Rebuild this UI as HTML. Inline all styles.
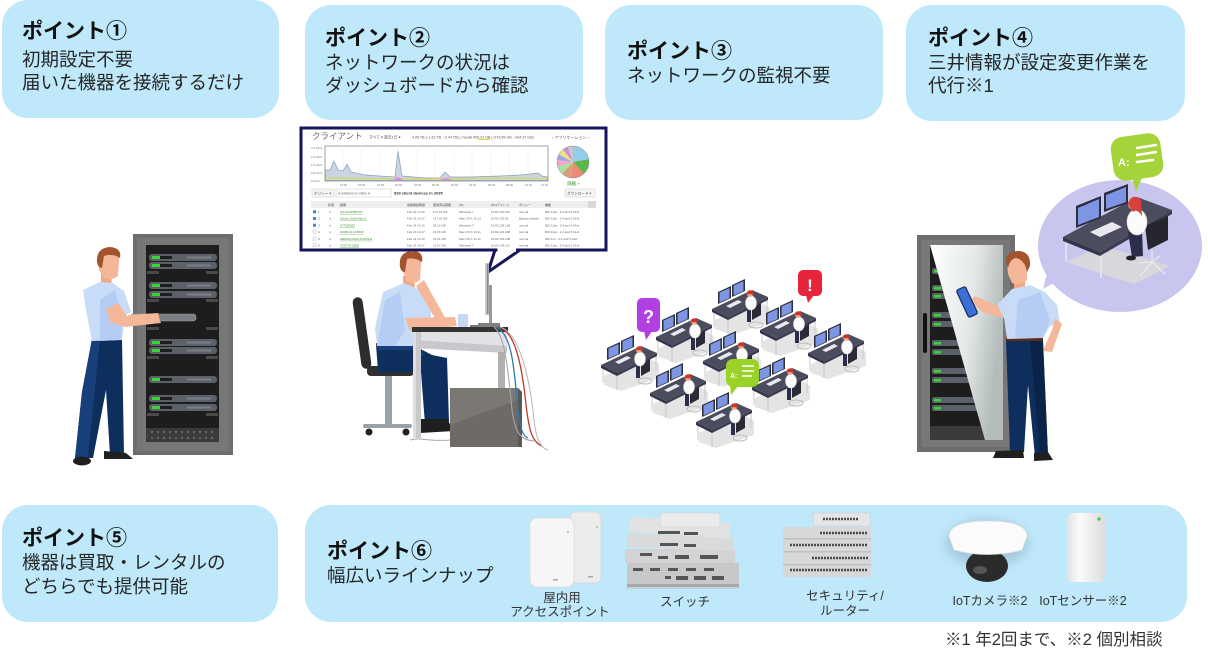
<!DOCTYPE html>
<html><head><meta charset="utf-8">
<style>
html,body{margin:0;padding:0;background:#fff;}
#c{position:relative;width:1208px;height:662px;overflow:hidden;background:#fff;font-family:"Liberation Sans","Noto Sans CJK JP",sans-serif;}
svg{position:absolute;left:0;top:0;}
.box{position:absolute;background:#bfe9fb;border-radius:26px;}
.t{position:absolute;white-space:nowrap;color:#262626;font-size:18.5px;line-height:24px;}
.h{font-weight:bold;font-size:21px;color:#111;}
.s{position:absolute;white-space:nowrap;color:#333;font-size:12.5px;line-height:15px;text-align:center;width:140px;}
</style></head><body><div id="c">

<div class="box" style="left:2px;top:0px;width:277px;height:118px;"></div>
<div class="box" style="left:305px;top:5px;width:278px;height:115px;"></div>
<div class="box" style="left:605px;top:5px;width:278px;height:115px;"></div>
<div class="box" style="left:906px;top:5px;width:279px;height:116px;"></div>
<div class="box" style="left:2px;top:505px;width:276px;height:117px;"></div>
<div class="box" style="left:305px;top:505px;width:882px;height:117px;"></div>

<svg width="1208" height="662" viewBox="0 0 1208 662" xmlns="http://www.w3.org/2000/svg">
<defs>
  <linearGradient id="door" x1="0" y1="0" x2="1" y2="0.3">
    <stop offset="0" stop-color="#ffffff"/>
    <stop offset="0.6" stop-color="#e4e8e8"/>
    <stop offset="1" stop-color="#b4bcbc"/>
  </linearGradient>
  <linearGradient id="sens" x1="0" y1="0" x2="1" y2="0">
    <stop offset="0" stop-color="#e2e2e2"/>
    <stop offset="0.35" stop-color="#fbfbfb"/>
    <stop offset="1" stop-color="#dcdcdc"/>
  </linearGradient>
  <filter id="bl" x="-50%" y="-50%" width="200%" height="200%"><feGaussianBlur stdDeviation="5"/></filter>
  <g id="unit">
    <rect x="0" y="0" width="68" height="7" rx="3" fill="#5c6169"/>
    <rect x="3" y="2" width="8" height="3" fill="#3ad43a"/>
    <rect x="11" y="2" width="12" height="3" fill="#1d1d1d"/>
    <rect x="38" y="2.5" width="24" height="2" fill="#7a8089"/>
  </g>
  <g id="desk">
    <polygon points="3,38 45,18 58,26 58,40 20,53 3,47" fill="#e4e4e4"/>
    <line x1="2" y1="28" x2="2" y2="45" stroke="#c9c9c9" stroke-width="1"/>
    <line x1="16" y1="36" x2="16" y2="52" stroke="#c9c9c9" stroke-width="1"/>
    <line x1="55" y1="16" x2="55" y2="33" stroke="#c9c9c9" stroke-width="1"/>
    <polygon points="0,27 40,8 56,15 16,35" fill="#4b4c5e"/>
    <polygon points="0,27 16,35 16,38 0,30" fill="#34354a"/>
    <polygon points="16,35 56,15 56,18 16,38" fill="#3c3d50"/>
    <polygon points="6,22 19,16 19,4 6,10" fill="#2c2e3c"/>
    <polygon points="7.5,20.5 17.5,16 17.5,6 7.5,10.5" fill="#7d95e2"/>
    <polygon points="20,15 33,9 33,-3 20,3" fill="#2c2e3c"/>
    <polygon points="21.5,13.5 31.5,9 31.5,-1 21.5,3.5" fill="#7d95e2"/>
    <polygon points="14,24 26,18 30,20 18,26" fill="#e8e8ee"/>
    <polygon points="40,26 49,21 49,33 40,38" fill="#2a2b36"/>
    <ellipse cx="44" cy="43" rx="7" ry="3" fill="none" stroke="#bdbdbd" stroke-width="1"/>
    <rect x="35" y="28" width="4" height="12" fill="#2b2e4a"/>
    <ellipse cx="39" cy="21" rx="5.5" ry="7" fill="#fbfbfb" stroke="#d8d8d8" stroke-width="0.6"/>
    <circle cx="38" cy="11.5" r="3.3" fill="#f0a789"/>
    <path d="M35,10 Q38,6.5 41.5,10 L41,13 Q38,11 35.5,13 Z" fill="#c8372d"/>
  </g>
</defs>

<!-- ===== Rack 1 ===== -->
<rect x="133" y="234" width="100" height="221" fill="#6d6d6d"/>
<rect x="137" y="238" width="92" height="213" fill="#777"/>
<rect x="146" y="245" width="73" height="183" fill="#1d1d1d"/>
<rect x="146" y="428" width="73" height="14" fill="#3b3b3b"/>
<g fill="#666">
  <circle cx="152" cy="432" r="1.2"/><circle cx="158" cy="432" r="1.2"/><circle cx="164" cy="432" r="1.2"/><circle cx="170" cy="432" r="1.2"/><circle cx="176" cy="432" r="1.2"/><circle cx="182" cy="432" r="1.2"/><circle cx="188" cy="432" r="1.2"/><circle cx="194" cy="432" r="1.2"/><circle cx="200" cy="432" r="1.2"/><circle cx="206" cy="432" r="1.2"/><circle cx="212" cy="432" r="1.2"/>
  <circle cx="152" cy="438" r="1.2"/><circle cx="158" cy="438" r="1.2"/><circle cx="164" cy="438" r="1.2"/><circle cx="170" cy="438" r="1.2"/><circle cx="176" cy="438" r="1.2"/><circle cx="182" cy="438" r="1.2"/><circle cx="188" cy="438" r="1.2"/><circle cx="194" cy="438" r="1.2"/><circle cx="200" cy="438" r="1.2"/><circle cx="206" cy="438" r="1.2"/><circle cx="212" cy="438" r="1.2"/>
</g>
<g fill="#4a4a4a">
  <rect x="147" y="271" width="12" height="3"/><rect x="206" y="271" width="12" height="3"/>
  <rect x="147" y="299" width="12" height="3"/><rect x="206" y="299" width="12" height="3"/>
  <rect x="147" y="327" width="12" height="3"/><rect x="206" y="327" width="12" height="3"/>
  <rect x="147" y="356" width="12" height="3"/><rect x="206" y="356" width="12" height="3"/>
  <rect x="147" y="413" width="12" height="3"/><rect x="206" y="413" width="12" height="3"/>
</g>
<use href="#unit" x="149" y="254"/><use href="#unit" x="149" y="262"/>
<use href="#unit" x="149" y="282"/><use href="#unit" x="149" y="291"/>
<use href="#unit" x="149" y="339"/><use href="#unit" x="149" y="347"/>
<use href="#unit" x="149" y="376"/>
<use href="#unit" x="149" y="395"/><use href="#unit" x="149" y="404"/>

<!-- Person 1 -->
<polygon points="92,339 122,339 124,455 110,455 106,390 93,458 75,458 82,392" fill="#0e2f5e"/>
<polygon points="92,339 100,339 88,457 75,458 82,392" fill="#17407a"/>
<ellipse cx="82" cy="461" rx="9" ry="4.5" fill="#1f1f1f"/>
<path d="M104,451 L126,453 L133,459 L104,459 Z" fill="#1f1f1f"/>
<polygon points="101,273 111,273 112,288 101,288" fill="#f2a886"/>
<polygon points="83,290 100,282 113,283 124,291 131,312 125,316 122,340 92,341 86,310" fill="#c8dcf8"/>
<polygon points="100,300 115,290 122,320 121,340 100,341" fill="#b5cdf4"/>
<polygon points="106,309 118,303 127,316 158,315 161,323 125,327 110,322" fill="#f5b799"/>
<rect x="130" y="314" width="66" height="7" rx="3" fill="#7a7e85" stroke="#a0a4aa" stroke-width="0.6"/>
<rect x="134" y="316" width="14" height="3" fill="#222"/>
<polygon points="128,315 158,313 160,321 130,323" fill="#f5b799"/>
<path d="M98,258 Q99,248 110,248 Q121,249 119,260 L118,276 Q112,281 104,278 L99,270 Z" fill="#f5b799"/>
<path d="M97,262 Q96,248 110,247 Q122,248 120,258 Q112,253 104,256 L102,268 Q98,268 97,262 Z" fill="#a3542f"/>

<!-- ===== Dashboard ===== -->
<rect x="301" y="128" width="305" height="122" fill="#fff" stroke="#16155c" stroke-width="3"/>
<polygon points="495,250 488,272 520,250" fill="#fff" stroke="#16155c" stroke-width="3" stroke-linejoin="miter"/>
<line x1="497.5" y1="250" x2="516" y2="250" stroke="#fff" stroke-width="3.5"/>
<text x="312" y="139" font-size="8.5" fill="#666" font-family="Liberation Sans, Noto Sans CJK JP, sans-serif">クライアント</text>
<text x="369" y="138.5" font-size="3.8" fill="#555" font-family="Liberation Sans, Noto Sans CJK JP, sans-serif">すべて ▾   過去1日 ▾</text>
<text x="412" y="138.5" font-size="3.6" fill="#555" font-family="Liberation Sans, sans-serif">4.06 TB (↓1.62 TB, ↑2.44 TB) | meraki 909.22 GB (↓673.65 GB, ↑304.37 GB)</text>
<rect x="478" y="139" width="12" height="1" fill="#e6dc3c"/>
<text x="552" y="139" font-size="4" fill="#555" font-family="Liberation Sans, Noto Sans CJK JP, sans-serif">‹ アプリケーション ›</text>
<g font-size="3" fill="#777" font-family="Liberation Sans, sans-serif">
<text x="311" y="149">3.2 Gb/s</text><text x="311" y="158">2.4 Gb/s</text><text x="311" y="166">1.6 Gb/s</text><text x="311" y="174">0.8 Gb/s</text><text x="311" y="182">0 Gb/s</text>
</g>
<rect x="325" y="146" width="223" height="35" fill="#fff" stroke="#8a8a8a" stroke-width="0.8"/>
<g stroke="#eee" stroke-width="0.5">
<line x1="343" y1="146" x2="343" y2="181"/><line x1="361" y1="146" x2="361" y2="181"/><line x1="380" y1="146" x2="380" y2="181"/><line x1="398" y1="146" x2="398" y2="181"/><line x1="417" y1="146" x2="417" y2="181"/><line x1="435" y1="146" x2="435" y2="181"/><line x1="454" y1="146" x2="454" y2="181"/><line x1="472" y1="146" x2="472" y2="181"/><line x1="491" y1="146" x2="491" y2="181"/><line x1="509" y1="146" x2="509" y2="181"/><line x1="528" y1="146" x2="528" y2="181"/>
</g>
<path d="M325.5,180.5 L325.5,170 L330,170 L334,161 L338,170 L343,171 L347,164 L351,172 L365,175 L395,177 L398,151 L402,176 L425,178 L440,178 L445,172 L450,177 L470,177 L500,176 L520,175 L530,174 L538,173 L542,176 L547.5,177 L547.5,180.5 Z" fill="#c9d5e1" stroke="#8aa0b8" stroke-width="0.7"/>
<polyline points="326,178 365,178.5 395,179 420,179 450,178.5 500,178 547,178.5" fill="none" stroke="#e2da3e" stroke-width="1"/>
<path d="M393,180 Q398,175 403,180 Z M440,180 Q446,176 452,180 Z" fill="#e48ad8"/>
<g font-size="2.8" fill="#777" font-family="Liberation Sans, sans-serif">
<text x="340" y="186">14:00</text><text x="358" y="186">16:00</text><text x="377" y="186">18:00</text><text x="395" y="186">20:00</text><text x="414" y="186">22:00</text><text x="432" y="186">00:00</text><text x="451" y="186">02:00</text><text x="469" y="186">04:00</text><text x="488" y="186">06:00</text><text x="506" y="186">08:00</text><text x="525" y="186">10:00</text><text x="541" y="186">12:00</text>
</g>
<g fill="none" stroke-width="16" transform="rotate(-90 573 162)">
<circle cx="573" cy="162" r="8" stroke="#93cde9" stroke-dasharray="11 39.27" stroke-dashoffset="0"/>
<circle cx="573" cy="162" r="8" stroke="#5cb84a" stroke-dasharray="8 42.27" stroke-dashoffset="-11"/>
<circle cx="573" cy="162" r="8" stroke="#f08878" stroke-dasharray="7 43.27" stroke-dashoffset="-19"/>
<circle cx="573" cy="162" r="8" stroke="#d6a07a" stroke-dasharray="5 45.27" stroke-dashoffset="-26"/>
<circle cx="573" cy="162" r="8" stroke="#a9e3a0" stroke-dasharray="4 46.27" stroke-dashoffset="-31"/>
<circle cx="573" cy="162" r="8" stroke="#f3a6c8" stroke-dasharray="3.5 46.77" stroke-dashoffset="-35"/>
<circle cx="573" cy="162" r="8" stroke="#9fa6f0" stroke-dasharray="3 47.27" stroke-dashoffset="-38.5"/>
<circle cx="573" cy="162" r="8" stroke="#f5e27a" stroke-dasharray="3 47.27" stroke-dashoffset="-41.5"/>
<circle cx="573" cy="162" r="8" stroke="#c58fe0" stroke-dasharray="2.8 47.47" stroke-dashoffset="-44.5"/>
<circle cx="573" cy="162" r="8" stroke="#c8c8c8" stroke-dasharray="3 47.27" stroke-dashoffset="-47.3"/>
</g>
<circle cx="573" cy="162" r="16" fill="none" stroke="#888" stroke-width="0.5"/>
<text x="567" y="185" font-size="4.5" fill="#3d8f2a" font-family="Liberation Sans, Noto Sans CJK JP, sans-serif">詳細 »</text>
<rect x="312" y="189" width="22" height="8" fill="#f6f6f6" stroke="#c8c8c8" stroke-width="0.5"/>
<text x="314" y="194.5" font-size="3.6" fill="#444" font-family="Liberation Sans, Noto Sans CJK JP, sans-serif">ポリシー ▾</text>
<rect x="336" y="189" width="55" height="8" fill="#fff" stroke="#c8c8c8" stroke-width="0.5"/>
<text x="338" y="194.5" font-size="3.4" fill="#666" font-family="Liberation Sans, sans-serif">is wireless is online          ▾</text>
<text x="394" y="194.5" font-size="4" fill="#333" font-weight="bold" font-family="Liberation Sans, sans-serif">839 client devices in 2035</text>
<rect x="565" y="189" width="30" height="8" fill="#f6f6f6" stroke="#c8c8c8" stroke-width="0.5"/>
<text x="567" y="194.5" font-size="3.6" fill="#444" font-family="Liberation Sans, Noto Sans CJK JP, sans-serif">ダウンロード ▾</text>
<rect x="311" y="201" width="285" height="7" fill="#eeeeee"/>
<rect x="588" y="201" width="8" height="7" fill="#d8d8d8"/>
<g font-size="3" fill="#444" font-family="Liberation Sans, Noto Sans CJK JP, sans-serif">
<text x="328" y="206">状態</text><text x="340" y="206">説明</text><text x="407" y="206">最終接続時間</text><text x="433" y="206">使用済み容量</text><text x="459" y="206">OS</text><text x="491" y="206">IPv4アドレス</text><text x="519" y="206">ポリシー</text><text x="545" y="206">機能</text>
</g>
<g font-size="3" font-family="Liberation Sans, sans-serif">
<g fill="#666">
<text x="407" y="213">Feb 23 14:10</text><text x="433" y="213">101.15 GB</text><text x="459" y="213">Windows 7</text><text x="491" y="213">10.82.130.210</text><text x="519" y="213">normal</text><text x="545" y="213">802.11ac - 2.4 and 5 GHz</text>
<text x="407" y="219.7">Feb 23 14:17</text><text x="433" y="219.7">127.10 GB</text><text x="459" y="219.7">Mac OS X 10.12</text><text x="491" y="219.7">10.82.132.82</text><text x="519" y="219.7">Bypass Splash</text><text x="545" y="219.7">802.11ac - 2.4 and 5 GHz</text>
<text x="407" y="226.4">Feb 23 14:15</text><text x="433" y="226.4">95.15 GB</text><text x="459" y="226.4">Windows 7</text><text x="491" y="226.4">10.82.134.103</text><text x="519" y="226.4">normal</text><text x="545" y="226.4">802.11ac - 2.4 and 5 GHz</text>
<text x="407" y="233.1">Feb 23 14:17</text><text x="433" y="233.1">16.66 GB</text><text x="459" y="233.1">Mac OS X 10.11</text><text x="491" y="233.1">10.82.130.198</text><text x="519" y="233.1">normal</text><text x="545" y="233.1">802.11ac - 2.4 and 5 GHz</text>
<text x="407" y="239.8">Feb 23 14:10</text><text x="433" y="239.8">15.01 GB</text><text x="459" y="239.8">Mac OS X 10.11</text><text x="491" y="239.8">10.82.133.238</text><text x="519" y="239.8">normal</text><text x="545" y="239.8">802.11n - 2.4 and 5 GHz</text>
<text x="407" y="246.5">Feb 23 14:17</text><text x="433" y="246.5">12.07 GB</text><text x="459" y="246.5">Windows 7</text><text x="491" y="246.5">10.82.134.211</text><text x="519" y="246.5">normal</text><text x="545" y="246.5">802.11ac - 2.4 and 5 GHz</text>
</g>
<g fill="#3d8f2a" text-decoration="underline">
<text x="340" y="213">ja3734c95f6f1c5</text><text x="340" y="219.7">Steven-Snell-Mac-2</text><text x="340" y="226.4">HTTZ5D63</text><text x="340" y="233.1">0008G4J-M-B36F</text><text x="340" y="239.8">MERAKI-MAC-M-8C5-E</text><text x="340" y="246.5">7G9TTA-53B3</text>
</g>
<g fill="#555"><text x="318" y="213">1</text><text x="318" y="219.7">2</text><text x="318" y="226.4">3</text><text x="318" y="233.1">4</text><text x="318" y="239.8">5</text><text x="318" y="246.5">6</text></g>
<g fill="#4bb04b"><text x="329" y="213">ψ</text><text x="329" y="219.7">ψ</text><text x="329" y="226.4">ψ</text><text x="329" y="233.1">ψ</text><text x="329" y="239.8">ψ</text><text x="329" y="246.5">ψ</text></g>
</g>
<rect x="313" y="210.3" width="3" height="3" fill="#3b86e0"/><rect x="313" y="217" width="3" height="3" fill="#3b86e0"/><rect x="313" y="223.7" width="3" height="3" fill="#3b86e0"/>
<rect x="313" y="230.4" width="3" height="3" fill="#fff" stroke="#aaa" stroke-width="0.4"/><rect x="313" y="237.1" width="3" height="3" fill="#fff" stroke="#aaa" stroke-width="0.4"/><rect x="313" y="243.8" width="3" height="3" fill="#fff" stroke="#aaa" stroke-width="0.4"/>

<!-- ===== Person 2 at desk ===== -->
<rect x="357" y="297" width="10" height="72" rx="5" fill="#2d2d2d" transform="rotate(-8 362 333)"/>
<rect x="385" y="376" width="7" height="50" fill="#9aa1a8"/>
<rect x="363" y="424" width="49" height="4" rx="2" fill="#9aa1a8"/>
<circle cx="369" cy="432" r="3.5" fill="#222"/><circle cx="406" cy="432" r="3.5" fill="#222"/>
<polygon points="376,345 413,345 432,355 447,358 449,422 425,424 421,372 378,370" fill="#0e2f5e"/>
<polygon points="376,345 413,345 425,355 382,360" fill="#17407a"/>
<rect x="367" y="366" width="47" height="10" rx="4" fill="#2f2f2f"/>
<polygon points="378,350 413,350 420,372 378,372" fill="#0e2f5e"/>
<polygon points="421,419 447,419 454,431 420,433" fill="#1f1f1f"/>
<rect x="376" y="343" width="36" height="3" fill="#5a2a1a"/>
<polygon points="403,276 414,276 415,290 403,290" fill="#f2a886"/>
<polygon points="383,292 404,283 420,290 431,312 430,334 412,346 377,346 375,328" fill="#c8dcf8"/>
<polygon points="385,300 400,292 405,330 395,346 377,346" fill="#b5cdf4"/>
<polygon points="405,318 455,317 457,326 410,331" fill="#f5b799"/>
<rect x="458" y="314" width="10" height="13" rx="1" fill="#c4d8f6"/>
<polygon points="416,286 424,280 447,321 440,327" fill="#f5b799"/>
<path d="M402,262 Q403,252 413,252 Q423,253 421,264 L420,280 Q414,285 407,281 L403,272 Z" fill="#f5b799"/>
<path d="M400,267 Q398,252 412,251 Q424,251 422,262 Q414,257 407,259 L405,272 Q401,272 400,267 Z" fill="#a3542f"/>
<!-- desk -->
<rect x="412" y="327" width="96" height="5" fill="#333"/>
<polygon points="413,332 507,332 507,353 413,345" fill="#e3e1e6"/>
<polygon points="413,340 507,346 507,353 413,348" fill="#c9c7cc"/>
<rect x="413" y="332" width="8" height="106" fill="#c9c9c9"/>
<rect x="413" y="332" width="3" height="106" fill="#dedede"/>
<rect x="498" y="352" width="7" height="36" fill="#b0b0b0"/>
<rect x="485" y="263" width="4" height="52" fill="#c6c6c6"/>
<rect x="487" y="264" width="1.5" height="50" fill="#888"/>
<rect x="489" y="285" width="3" height="40" fill="#999"/>
<rect x="478" y="323" width="22" height="4" fill="#808080"/>
<rect x="470" y="325" width="8" height="2" fill="#777"/>
<!-- PC tower -->
<polygon points="450,388 518,388 522,392 522,447 450,447" fill="#7b7772"/>
<polygon points="450,425 518,400 518,447 450,447" fill="#6e6a66"/>
<polygon points="518,388 522,392 522,447 518,447" fill="#5c5955"/>
<!-- cables -->
<path d="M498,327 C515,330 522,365 526,405 C529,430 532,442 542,446" fill="none" stroke="#c0392b" stroke-width="1.3"/>
<path d="M496,327 C511,333 514,365 517,400 C519,425 522,436 528,438" fill="none" stroke="#2a7ab0" stroke-width="1.3"/>
<path d="M494,327 C506,336 509,380 512,410 C515,432 520,440 534,441" fill="none" stroke="#a6a6a6" stroke-width="1.1"/>
<path d="M500,327 C520,333 530,380 534,420 C536,438 540,448 548,450" fill="none" stroke="#b5b5b5" stroke-width="1"/>
<path d="M450,440 C430,442 420,437 410,440" fill="none" stroke="#aaa" stroke-width="1"/>

<!-- ===== Isometric office ===== -->
<use href="#desk" x="712" y="282"/>
<use href="#desk" x="656" y="310"/>
<use href="#desk" x="760" y="303"/>
<use href="#desk" x="601" y="338"/>
<use href="#desk" x="703" y="334"/>
<use href="#desk" x="808" y="326"/>
<use href="#desk" x="650" y="366"/>
<use href="#desk" x="752" y="360"/>
<use href="#desk" x="696" y="395"/>
<!-- bubbles -->
<rect x="637" y="298" width="23" height="34" rx="5" fill="#b23fe2"/>
<polygon points="644,331 652,331 646,340" fill="#b23fe2"/>
<text x="648.5" y="323" font-size="18" font-weight="bold" fill="#fff" text-anchor="middle" font-family="Liberation Sans, sans-serif">?</text>
<rect x="798" y="270" width="24" height="26" rx="5" fill="#e8243c"/>
<polygon points="806,295 814,295 808,303" fill="#e8243c"/>
<text x="810" y="291" font-size="17" font-weight="bold" fill="#fff" text-anchor="middle" font-family="Liberation Sans, sans-serif">!</text>
<rect x="726" y="359" width="33" height="28" rx="7" fill="#9ad22a"/>
<polygon points="730,385 739,385 731,395" fill="#9ad22a"/>
<text x="730" y="378" font-size="7" font-weight="bold" fill="#fff" font-family="Liberation Sans, sans-serif">A:</text>
<g stroke="#fff" stroke-width="1.5"><line x1="742" y1="366" x2="754" y2="366"/><line x1="742" y1="371" x2="754" y2="371"/><line x1="742" y1="376" x2="752" y2="376"/></g>

<!-- ===== Right: bubble with operator ===== -->
<ellipse cx="1120" cy="246" rx="82" ry="66" fill="#c8c6ef"/>
<polygon points="1050,262 1043,289 1066,276" fill="#c8c6ef"/>
<polygon points="1066,262 1102,246 1170,266 1134,284" fill="#d8d8dc"/>
<line x1="1066" y1="240" x2="1066" y2="262" stroke="#e8e8ee" stroke-width="1.5"/>
<line x1="1101" y1="254" x2="1101" y2="278" stroke="#e8e8ee" stroke-width="1.5"/>
<polygon points="1063,237 1137,197 1172,210 1100,252" fill="#4b4c5e"/>
<polygon points="1063,237 1100,252 1100,256 1063,241" fill="#34354a"/>
<polygon points="1100,252 1172,210 1172,214 1100,256" fill="#3c3d50"/>
<polygon points="1076,228 1101,218 1101,196 1076,206" fill="#2c2e3c"/>
<polygon points="1078,225 1099,217 1099,199 1078,208" fill="#7d95e2"/>
<polygon points="1104,212 1128,203 1128,184 1104,193" fill="#2c2e3c"/>
<polygon points="1106,209 1126,202 1126,187 1106,195" fill="#7d95e2"/>
<polygon points="1090,232 1112,222 1122,227 1100,237" fill="#e8e8ee"/>
<polygon points="1145,226 1168,216 1168,240 1148,250" fill="#25262e"/>
<g stroke="#e8e8ee" stroke-width="1.3"><line x1="1152" y1="262" x2="1140" y2="276"/><line x1="1152" y1="262" x2="1165" y2="274"/><line x1="1152" y1="262" x2="1138" y2="263"/><line x1="1152" y1="262" x2="1160" y2="256"/><line x1="1152" y1="250" x2="1152" y2="262"/></g>
<polygon points="1128,232 1142,230 1143,256 1132,257" fill="#2b2e4a"/>
<ellipse cx="1131" cy="258" rx="5" ry="2.5" fill="#222"/>
<ellipse cx="1137" cy="222" rx="10" ry="13" fill="#fbfbfb" stroke="#d8d8d8" stroke-width="0.6"/>
<circle cx="1134" cy="204" r="6" fill="#f0a789"/>
<path d="M1128,204 Q1132,192 1141,200 L1142,216 Q1137,208 1133,212 Z" fill="#d8403a"/>
<rect x="1112" y="135" width="50" height="44" rx="12" fill="#a4d43a" transform="rotate(-8 1137 157)"/>
<polygon points="1132,176 1143,175 1136,192" fill="#a4d43a"/>
<text x="1118" y="166" font-size="11" font-weight="bold" fill="#fff" font-family="Liberation Sans, sans-serif">A:</text>
<g stroke="#fff" stroke-width="2.5" stroke-linecap="round"><line x1="1137" y1="148" x2="1156" y2="145"/><line x1="1137" y1="155" x2="1156" y2="152"/><line x1="1137" y1="162" x2="1153" y2="160"/></g>

<!-- ===== Rack 2 ===== -->
<rect x="917" y="235" width="98" height="217" fill="#6e6e6e"/>
<rect x="922" y="240" width="88" height="207" fill="#787878"/>
<rect x="930" y="245" width="73" height="195" fill="#1d1d1d"/>
<g>
<rect x="932" y="268" width="40" height="6" rx="2" fill="#5c6169"/><rect x="934" y="270" width="7" height="2.5" fill="#3ad43a"/>
<rect x="932" y="285" width="40" height="6" rx="2" fill="#5c6169"/><rect x="934" y="287" width="7" height="2.5" fill="#3ad43a"/>
<rect x="932" y="293" width="40" height="6" rx="2" fill="#5c6169"/><rect x="934" y="295" width="7" height="2.5" fill="#3ad43a"/>
<rect x="932" y="312" width="40" height="6" rx="2" fill="#5c6169"/><rect x="934" y="314" width="7" height="2.5" fill="#3ad43a"/>
<rect x="932" y="321" width="40" height="6" rx="2" fill="#5c6169"/><rect x="934" y="323" width="7" height="2.5" fill="#3ad43a"/>
<rect x="932" y="340" width="45" height="6" rx="2" fill="#5c6169"/><rect x="934" y="342" width="7" height="2.5" fill="#3ad43a"/>
<rect x="932" y="349" width="45" height="6" rx="2" fill="#5c6169"/><rect x="934" y="351" width="7" height="2.5" fill="#3ad43a"/>
<rect x="932" y="368" width="50" height="6" rx="2" fill="#5c6169"/><rect x="934" y="370" width="7" height="2.5" fill="#3ad43a"/>
<rect x="932" y="377" width="50" height="6" rx="2" fill="#5c6169"/><rect x="934" y="379" width="7" height="2.5" fill="#3ad43a"/>
<rect x="932" y="397" width="55" height="6" rx="2" fill="#5c6169"/><rect x="934" y="399" width="7" height="2.5" fill="#3ad43a"/>
<rect x="932" y="405" width="55" height="6" rx="2" fill="#5c6169"/><rect x="934" y="407" width="7" height="2.5" fill="#3ad43a"/>
<rect x="930" y="426" width="60" height="14" fill="#3b3b3b"/>
</g>
<polygon points="930,245 1003,245 1003,440 985,440" fill="url(#door)"/>
<rect x="923" y="313" width="4" height="40" rx="2" fill="#111"/>

<!-- Person 4 -->
<polygon points="1006,341 1043,341 1048,455 1035,457 1028,385 1024,452 1010,452" fill="#0e2f5e"/>
<polygon points="1030,341 1043,341 1048,455 1040,456" fill="#0a2449"/>
<path d="M996,451 L1023,450 L1024,458 L993,458 Z" fill="#1f1f1f"/>
<path d="M1034,453 L1048,452 L1053,460 L1034,461 Z" fill="#1f1f1f"/>
<rect x="1006" y="337" width="37" height="4" fill="#5a2a1a"/>
<polygon points="1014,280 1025,280 1025,292 1014,292" fill="#f2a886"/>
<polygon points="997,305 1012,289 1030,285 1045,292 1057,305 1060,323 1050,326 1043,338 1007,339 1004,318" fill="#c8dcf8"/>
<polygon points="1018,300 1040,292 1050,320 1043,338 1015,338" fill="#b5cdf4"/>
<polygon points="1055,318 1062,324 1052,352 1043,351 1052,330" fill="#f5b799"/>
<polygon points="998,306 1004,318 984,313 970,301 975,296" fill="#f5b799"/>
<rect x="962" y="287" width="10" height="30" rx="2" fill="#3b6fd8" stroke="#1b2a55" stroke-width="1.2" transform="rotate(-25 967 302)"/>
<path d="M1007,262 Q1008,252 1018,252 Q1029,253 1027,264 L1027,280 Q1020,286 1012,283 L1008,274 Z" fill="#f5b799"/>
<path d="M1006,262 Q1006,251 1019,251 Q1031,252 1030,266 L1027,272 Q1025,260 1016,258 Q1010,259 1008,268 Z" fill="#a3542f"/>

<!-- ===== Products ===== -->
<rect x="570" y="512" width="31" height="71" rx="6" fill="#ececec" stroke="#d6d6d6" stroke-width="0.8"/>
<rect x="530" y="518" width="44" height="69" rx="7" fill="#f6f6f6" stroke="#dcdcdc" stroke-width="0.8"/>
<circle cx="568" cy="532" r="1" fill="#9ecf7a"/><circle cx="597" cy="527" r="1" fill="#9ecf7a"/>
<rect x="553" y="579" width="5" height="1.5" fill="#aaa"/><rect x="588" y="576" width="5" height="1.5" fill="#aaa"/>

<!-- switch -->
<rect x="627" y="563" width="112" height="24" fill="#c8c8c8"/>
<rect x="627" y="584" width="112" height="4" fill="#a9a9a9"/>
<rect x="625" y="549" width="110" height="14" fill="#d3d3d3"/>
<rect x="627" y="535" width="106" height="14" fill="#dadada" transform="rotate(2 680 542)"/>
<rect x="630" y="520" width="100" height="15" fill="#e2e2e2" transform="rotate(4 680 527)"/>
<rect x="660" y="513" width="60" height="14" rx="3" fill="#ebebeb" stroke="#cfcfcf" stroke-width="0.6"/>
<g fill="#555">
<rect x="658" y="531" width="22" height="3"/><rect x="684" y="532" width="14" height="3"/>
<rect x="660" y="543" width="18" height="3"/><rect x="684" y="544" width="12" height="3"/>
<rect x="640" y="553" width="12" height="3"/><rect x="658" y="556" width="10" height="3"/><rect x="675" y="555" width="14" height="4"/><rect x="700" y="555" width="18" height="4"/>
<rect x="633" y="568" width="10" height="3"/><rect x="650" y="568" width="10" height="3"/><rect x="668" y="568" width="10" height="3"/><rect x="686" y="568" width="10" height="3"/><rect x="704" y="568" width="10" height="3"/>
<rect x="665" y="576" width="6" height="3"/><rect x="676" y="576" width="12" height="4"/><rect x="694" y="576" width="12" height="4"/><rect x="712" y="576" width="12" height="4"/>
</g>
<rect x="626" y="587" width="114" height="2" fill="#c4d4dc"/>

<!-- security -->
<rect x="783" y="527" width="88" height="50" fill="#d8d8d8"/>
<rect x="813" y="513" width="57" height="13" fill="#e6e6e6" stroke="#ccc" stroke-width="0.6"/>
<g fill="#c0c0c0"><rect x="783" y="538" width="88" height="1.5"/><rect x="783" y="551" width="88" height="1.5"/><rect x="783" y="564" width="88" height="1.5"/></g>
<g stroke="#4a4a4a" stroke-width="2.5" stroke-dasharray="2 1">
<line x1="823" y1="519" x2="858" y2="519"/>
<line x1="820" y1="533" x2="868" y2="533"/>
<line x1="790" y1="545" x2="868" y2="545"/>
<line x1="812" y1="558" x2="868" y2="558"/>
<line x1="790" y1="570" x2="868" y2="570"/>
</g>

<!-- camera -->
<ellipse cx="987" cy="543" rx="42" ry="24" fill="#8fb0c6" opacity="0.55" filter="url(#bl)"/>
<ellipse cx="987" cy="566" rx="21" ry="16" fill="#2b2b2b"/>
<ellipse cx="980" cy="570" rx="7" ry="4" fill="#555"/>
<path d="M949,536 Q950,521 988,521 Q1026,521 1027,536 L1022,550 Q988,559 954,550 Z" fill="#fbfbfb" stroke="#e2e2e2" stroke-width="0.8"/>

<!-- sensor -->
<rect x="1067" y="513" width="38" height="69" rx="6" fill="url(#sens)"/>
<circle cx="1099" cy="519" r="1.6" fill="#3cc43c"/>
</svg>

<!-- ===== Texts ===== -->
<div class="t h" style="left:22px;top:20px;">ポイント①</div>
<div class="t" style="left:22px;top:48px;">初期設定不要</div>
<div class="t" style="left:22px;top:71px;">届いた機器を接続するだけ</div>

<div class="t h" style="left:325px;top:27px;">ポイント②</div>
<div class="t" style="left:325px;top:51px;">ネットワークの状況は</div>
<div class="t" style="left:325px;top:74px;">ダッシュボードから確認</div>

<div class="t h" style="left:627px;top:40px;">ポイント③</div>
<div class="t" style="left:627px;top:64px;">ネットワークの監視不要</div>

<div class="t h" style="left:928px;top:27px;">ポイント④</div>
<div class="t" style="left:928px;top:51px;">三井情報が設定変更作業を</div>
<div class="t" style="left:928px;top:74px;">代行※1</div>

<div class="t h" style="left:22px;top:527px;">ポイント⑤</div>
<div class="t" style="left:22px;top:551px;">機器は買取・レンタルの</div>
<div class="t" style="left:22px;top:575px;">どちらでも提供可能</div>

<div class="t h" style="left:327px;top:540px;">ポイント⑥</div>
<div class="t" style="left:327px;top:564px;">幅広いラインナップ</div>

<div class="s" style="left:492px;top:591px;">屋内用</div>
<div class="s" style="left:490px;top:605px;">アクセスポイント</div>
<div class="s" style="left:615px;top:595px;">スイッチ</div>
<div class="s" style="left:775px;top:589px;">セキュリティ/</div>
<div class="s" style="left:775px;top:604px;">ルーター</div>
<div class="s" style="left:920px;top:594px;">IoTカメラ※2</div>
<div class="s" style="left:1013px;top:594px;">IoTセンサー※2</div>

<div class="t" style="left:945px;top:628px;font-size:16.5px;color:#333;">※1 年2回まで、※2 個別相談</div>

</div></body></html>
